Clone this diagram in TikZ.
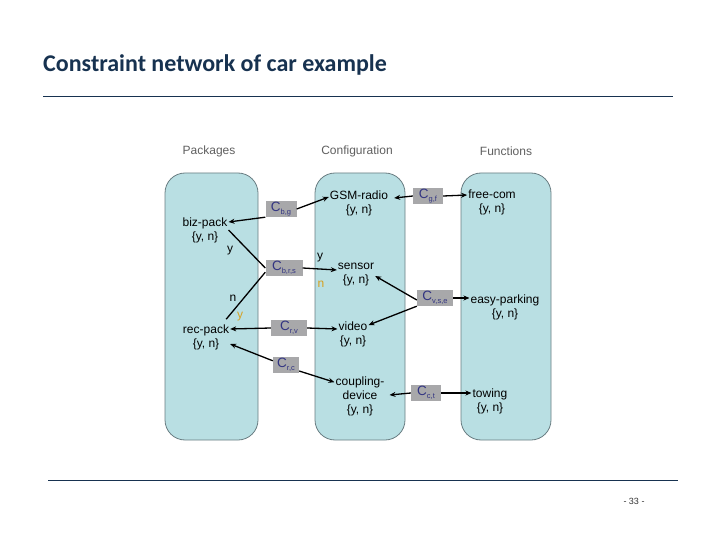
\documentclass[tikz,border=0pt]{standalone}
\usepackage{fontspec}
\setmainfont{Liberation Sans}
\newfontfamily\titlefont{Carlito}
\usetikzlibrary{arrows.meta}
\definecolor{boxfill}{RGB}{185,223,227}
\definecolor{boxdraw}{RGB}{105,125,130}
\definecolor{cfill}{RGB}{168,168,170}
\definecolor{ctext}{RGB}{50,52,130}
\definecolor{orangelbl}{RGB}{215,160,30}
\definecolor{headgray}{RGB}{95,95,95}
\definecolor{navy}{RGB}{23,50,80}
\newcommand{\csub}[2]{C\raisebox{-2.5pt}{\fontsize{7.5}{8}\selectfont #2}}
\tikzset{
  column/.style={draw=boxdraw, line width=0.8pt, fill=boxfill, rounded corners=20pt},
  var/.style={align=center, font=\fontsize{12}{14}\selectfont, inner sep=1pt},
  cons/.style={fill=cfill, text=ctext, font=\fontsize{13.5}{14}\selectfont, inner sep=0pt, minimum height=16pt},
  heading/.style={text=headgray, font=\fontsize{12}{14}\selectfont},
  conn/.style={line width=1.3pt, black},
  arr/.style={conn, -{Stealth[length=6pt,width=5pt]}},
  lbl/.style={font=\fontsize{12}{14}\selectfont, inner sep=0pt},
}
\begin{document}
\begin{tikzpicture}[x=1pt,y=-1pt]
\useasboundingbox (0,0) rectangle (720,540);
% title and rules
\node[anchor=base west, text=navy, font=\titlefont\bfseries\fontsize{24}{28}\selectfont, inner sep=0pt] (title) at (43,72) {Constraint network of car example};
\draw[navy, line width=0.8pt] (43,96) coordinate (r1a) -- (673,96) coordinate (r1b);
\draw[navy, line width=0.8pt] (48,480) coordinate (r2a) -- (678,480) coordinate (r2b);
\node[font=\fontsize{9}{10}\selectfont, text=black!80] (page) at (634,501) {- 33 -};
% columns
\draw[column] (165,173) rectangle (258,440);
\draw[column] (315,173) rectangle (405,440);
\draw[column] (461,173) rectangle (551,440);
\node[heading] (hp) at (209,151) {Packages};
\node[heading] (hc) at (357,151) {Configuration};
\node[heading] (hf) at (506,151) {Functions};
% variables
\node[var] (biz) at (205,230) {biz-pack\\{\{}y, n\}};
\node[var] (rec) at (206,337) {rec-pack\\{\{}y, n\}};
\node[var] (gsm) at (359,203) {GSM-radio\\{\{}y, n\}};
\node[var] (sensor) at (356,275) {sensor\\{\{}y, n\}};
\node[var] (video) at (353,334) {video\\{\{}y, n\}};
\node[var] (coup) at (360,396) {coupling-\\device\\{\{}y, n\}};
\node[var] (free) at (492,202) {free-com\\{\{}y, n\}};
\node[var] (easy) at (505,307) {easy-parking\\{\{}y, n\}};
\node[var] (tow) at (490,401) {towing\\{\{}y, n\}};
% constraints
\node[cons, minimum width=31pt] (cbg) at (281,209) {\csub{}{b,g}};
\node[cons, minimum width=37pt] (cbrs) at (284,268) {\csub{}{b,r,s}};
\node[cons, minimum width=30pt] (cgf) at (428,196) {\csub{}{g,f}};
\node[cons, minimum width=36pt] (cvse) at (435,298) {\csub{}{v,s,e}};
\node[cons, minimum width=36pt] (crv) at (289,328) {\csub{}{r,v}};
\node[cons, minimum width=26pt] (crc) at (286,365) {\csub{}{r,c}};
\node[cons, minimum width=30pt] (cct) at (426,393) {\csub{}{c,t}};
% connectors
\draw[arr] (cbg.south west) -- ([yshift=8pt]biz.east);
\draw[arr] (cbg.east) -- ([yshift=6pt]gsm.west);
\draw[arr] (cgf.west) -- ([shift={(5pt,5pt)}]gsm.east);
\draw[arr] (cgf.east) -- ([yshift=7pt]free.west);
\draw[conn] (biz.east) -- (cbrs.west);
\draw[conn] ([shift={(-4pt,4pt)}]rec.north east) -- ([yshift=4pt]cbrs.south west);
\draw[arr] (cbrs.east) -- ([yshift=5pt]sensor.west);
\draw[arr] ([yshift=-2pt]cvse.west) -- ([yshift=-1pt]sensor.east);
\draw[arr] (cvse.south west) -- ([yshift=9pt]video.east);
\draw[arr] (cvse.east) -- ([yshift=9pt]easy.west);
\draw[arr] (crv.west) -- ([yshift=8pt]rec.east);
\draw[arr] (crv.east) -- ([yshift=5pt]video.west);
\draw[arr] ([yshift=-4pt]crc.north west) -- ([yshift=-7pt]rec.east);
\draw[arr] ([yshift=-6pt]crc.east) -- ([yshift=-7pt]coup.north west);
\draw[arr] (cct.west) -- ([shift={(4pt,1pt)}]coup.east);
\draw[arr] (cct.east) -- ([yshift=8pt]tow.west);
% value labels
\node[lbl] (ly1) at (230,251) {y};
\node[lbl] (ln1) at (233,298) {n};
\node[lbl, text=orangelbl] (ly2) at (240,317) {y};
\node[lbl] (ly3) at (320,258) {y};
\node[lbl, text=orangelbl] (ln2) at (321,284) {n};
\end{tikzpicture}
\end{document}
